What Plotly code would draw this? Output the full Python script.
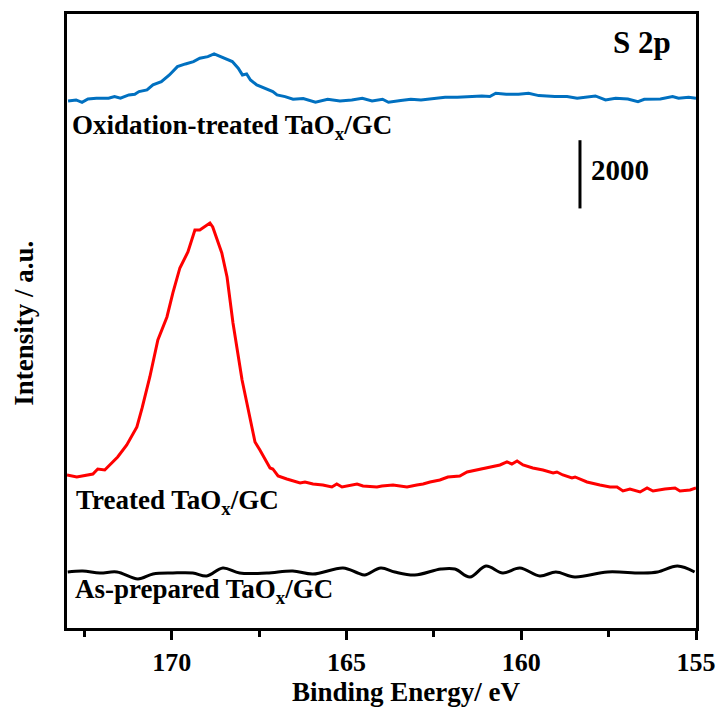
import plotly.graph_objects as go

# Binding energy (eV) and intensity (counts, with vertical offsets as plotted)
as_prep_x = [172.98, 172.55, 172.06, 171.57, 170.97, 170.54, 169.97, 169.40, 169.00, 168.54,
             168.06, 167.28, 166.54, 165.96, 165.10, 164.68, 164.48, 164.02, 163.62, 163.05,
             162.30, 161.90, 161.47, 161.01, 160.53, 160.04, 159.47, 159.01, 158.47, 157.53,
             156.58, 156.10, 155.53, 155.04]
as_prep_y = [1642, 1671, 1613, 1642, 1437, 1583, 1613, 1613, 1525, 1759,
             1613, 1613, 1671, 1583, 1759, 1613, 1554, 1759, 1642, 1554,
             1730, 1730, 1495, 1818, 1613, 1759, 1525, 1642, 1495, 1642,
             1613, 1642, 1818, 1642]

treated_x = [173.00, 172.72, 172.26, 172.12, 171.92, 171.77, 171.55, 171.29, 171.14, 171.00,
             170.85, 170.63, 170.40, 170.14, 169.97, 169.77, 169.54, 169.34, 169.20, 168.91,
             168.83, 168.57, 168.42, 168.25, 167.99, 167.82, 167.62, 167.48, 167.19, 167.11,
             166.96, 166.71, 166.48, 166.33, 166.19, 165.96, 165.68, 165.42, 165.28, 165.13,
             164.70, 164.53, 164.13, 163.99, 163.67, 163.27, 162.99, 162.81, 162.61, 162.33,
             162.10, 161.76, 161.55, 161.18, 160.90, 160.61, 160.41, 160.27, 160.12, 159.95,
             159.67, 159.38, 159.09, 158.98, 158.81, 158.55, 158.46, 158.12, 157.75, 157.46,
             157.26, 157.09, 156.89, 156.60, 156.40, 156.23, 155.89, 155.60, 155.46, 155.17,
             155.00]
treated_y = [4486, 4427, 4515, 4662, 4633, 4779, 5014, 5366, 5659, 5893,
             6450, 7359, 8444, 9119, 9822, 10555, 11024, 11669, 11669, 11874,
             11757, 10995, 10291, 8943, 7271, 6392, 5454, 5219, 4691, 4662,
             4457, 4369, 4310, 4251, 4281, 4222, 4193, 4134, 4222, 4134,
             4222, 4163, 4134, 4163, 4193, 4134, 4193, 4222, 4281, 4339,
             4427, 4457, 4574, 4662, 4721, 4779, 4867, 4808, 4896, 4779,
             4691, 4633, 4545, 4574, 4486, 4398, 4427, 4281, 4193, 4134,
             4134, 4017, 4075, 3988, 4105, 4017, 4075, 4105, 4017, 4046,
             4105]

oxid_x = [172.97, 172.74, 172.57, 172.40, 172.16, 171.81, 171.64, 171.47, 171.23, 171.06,
          170.94, 170.71, 170.54, 170.30, 170.07, 169.84, 169.61, 169.38, 169.20, 168.97,
          168.79, 168.62, 168.39, 168.27, 168.10, 167.98, 167.86, 167.75, 167.57, 167.34,
          167.11, 166.99, 166.76, 166.53, 166.24, 165.89, 165.54, 165.19, 164.85, 164.55,
          164.27, 163.97, 163.80, 163.45, 163.16, 162.87, 162.52, 162.18, 161.83, 161.48,
          161.13, 160.90, 160.73, 160.43, 160.08, 159.79, 159.50, 159.04, 158.69, 158.40,
          158.11, 157.88, 157.59, 157.30, 156.95, 156.66, 156.48, 156.02, 155.67, 155.50,
          155.21, 155.00]
oxid_y = [15452, 15481, 15412, 15510, 15530, 15530, 15579, 15530, 15627, 15647,
          15725, 15774, 15921, 16018, 16214, 16458, 16536, 16605, 16702, 16751,
          16830, 16751, 16654, 16605, 16409, 16214, 16243, 16067, 15921, 15823,
          15725, 15627, 15579, 15500, 15520, 15412, 15500, 15452, 15481, 15530,
          15452, 15500, 15412, 15461, 15500, 15481, 15530, 15559, 15559, 15579,
          15598, 15579, 15676, 15647, 15647, 15676, 15608, 15579, 15579, 15530,
          15559, 15598, 15481, 15530, 15510, 15432, 15500, 15510, 15579, 15530,
          15559, 15530]

x_ticks = [170, 165, 160, 155]
x_minor_ticks = [172.5, 167.5, 162.5, 157.5]
scale_bar_x = 158.32
scale_bar_y0 = 12300
scale_bar_len = 2000

FONT = "Liberation Serif, Times New Roman, serif"

fig = go.Figure()
fig.add_trace(go.Scatter(x=as_prep_x, y=as_prep_y, mode="lines",
                         line=dict(color="black", width=3, shape="spline", smoothing=1.0)))
fig.add_trace(go.Scatter(x=treated_x, y=treated_y, mode="lines",
                         line=dict(color="#FF0000", width=3)))
fig.add_trace(go.Scatter(x=oxid_x, y=oxid_y, mode="lines",
                         line=dict(color="#0070C0", width=3)))

fig.add_shape(type="line", xref="x", yref="y", x0=scale_bar_x, x1=scale_bar_x,
              y0=scale_bar_y0, y1=scale_bar_y0 + scale_bar_len,
              line=dict(color="black", width=3))

def ann(text, x, y, size, xanchor="left", yanchor="middle", **kw):
    fig.add_annotation(text=text, x=x, y=y, xref="paper", yref="paper",
                       showarrow=False, xanchor=xanchor, yanchor=yanchor,
                       font=dict(family=FONT, size=size, color="black"), **kw)

ann("<b>Oxidation-treated TaO<sub>x</sub>/GC</b>", 0.005, 0.816, 27)
ann("<b>Treated TaO<sub>x</sub>/GC</b>", 0.011, 0.206, 27)
ann("<b>As-prepared TaO<sub>x</sub>/GC</b>", 0.010, 0.060, 27)
ann("<b>S 2p</b>", 0.963, 0.954, 31, xanchor="right")
ann("<b>2000</b>", 0.830, 0.746, 29)
ann("<b>Binding Energy/ eV</b>", 0.539, -0.104, 27, xanchor="center")
ann("<b>Intensity / a.u.</b>", -0.068, 0.496, 27, xanchor="center", textangle=-90)

fig.update_xaxes(range=[173, 155], tickmode="array", tickvals=x_ticks,
                 ticktext=[f"<b>{t}</b>" for t in x_ticks],
                 ticks="outside", ticklen=9, tickwidth=3, tickcolor="black",
                 showline=True, linewidth=3, linecolor="black", mirror=True,
                 showgrid=False, zeroline=False, automargin=False,
                 tickfont=dict(family=FONT, size=26, color="black", weight="bold"),
                 ticklabelstandoff=0,
                 minor=dict(tickmode="array", tickvals=x_minor_ticks,
                            ticks="outside", ticklen=6, tickwidth=3, tickcolor="black"))
fig.update_yaxes(range=[0, 18000], showticklabels=False, ticks="",
                 showline=True, linewidth=3, linecolor="black", mirror=True,
                 showgrid=False, zeroline=False, automargin=False)

fig.update_layout(width=718, height=720, showlegend=False,
                  margin=dict(l=67, r=22, t=14, b=92),
                  plot_bgcolor="white", paper_bgcolor="white",
                  font=dict(family=FONT))

fig.write_html("out.html", config={"displayModeBar": False},
               post_script="document.body.style.margin='0px';")
